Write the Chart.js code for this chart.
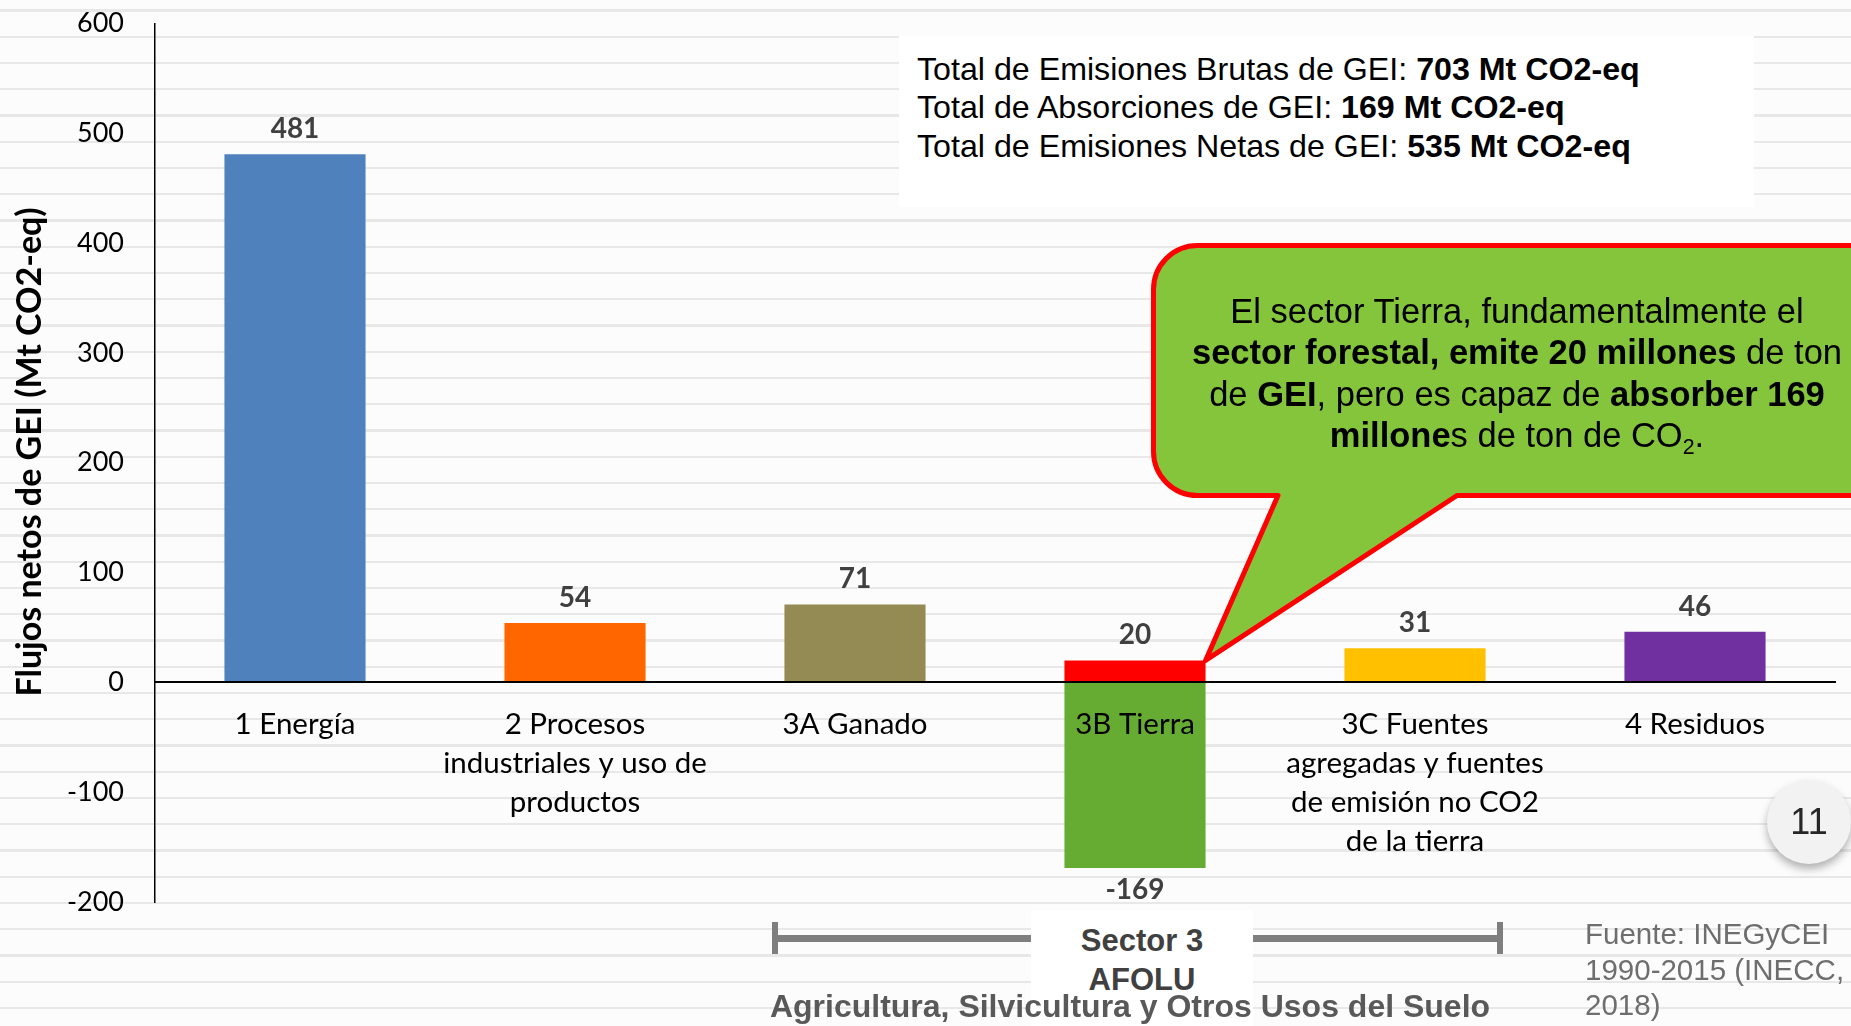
<!DOCTYPE html>
<html><head><meta charset="utf-8">
<script src="https://cdn.jsdelivr.net/npm/chart.js@4.4.1/dist/chart.umd.min.js"></script>
<style>
html,body{margin:0;padding:0;width:1851px;height:1026px;overflow:hidden;}
body{position:relative;background-color:#fcfcfc;
 background-image:repeating-linear-gradient(to bottom, rgba(0,0,0,0) 0px, rgba(0,0,0,0) 9.3px, #e8e8e8 9.3px, #e8e8e8 11.7px, rgba(0,0,0,0) 11.7px, rgba(0,0,0,0) 26.25px);
 font-family:"Liberation Sans",Arial,sans-serif;}
#c{position:absolute;left:0;top:0;}
.abs{position:absolute;white-space:nowrap;}
#ytitle{left:-272px;top:432px;width:600px;height:40px;line-height:40px;text-align:center;transform:rotate(-90deg);
 font-family:Lato,"Noto Sans",sans-serif;font-weight:bold;font-size:34px;color:#000;}
#totals{left:899px;top:36px;width:855px;height:171px;background:#fff;box-sizing:border-box;padding:13.75px 0 0 18px;
 font-size:32.2px;line-height:38.5px;color:#000;}
#callout{left:1157px;top:291px;width:720px;text-align:center;font-size:34.5px;line-height:41.4px;color:#000;}
.sub{font-size:0.62em;position:relative;top:0.32em;}
.brk{background:#7f7f7f;}
#sbox{left:1031px;top:910px;width:222px;height:120px;background:#fff;}
#sector{left:1031px;top:920.5px;width:222px;text-align:center;font-weight:bold;font-size:31px;line-height:39px;color:#404040;}
#afolu{left:630px;top:986.8px;width:1000px;text-align:center;font-weight:bold;font-size:32px;line-height:38.4px;color:#595959;}
#fuente{left:1585px;top:916.3px;font-size:29.5px;line-height:35.4px;color:#6e6e6e;}
#page{left:1767px;top:780px;width:84px;height:84px;border-radius:50%;background:#f2f2f2;box-shadow:0 5px 9px rgba(0,0,0,0.3);
 text-align:center;line-height:84px;font-size:36px;color:#262626;}
</style>
</head><body>
<canvas id="c" width="1851" height="1026"></canvas>
<div class="abs" id="ytitle">Flujos netos de GEI (Mt CO2-eq)</div>
<div class="abs" id="totals">Total de Emisiones Brutas de GEI: <b>703 Mt CO2-eq</b><br>Total de Absorciones de GEI: <b>169 Mt CO2-eq</b><br>Total de Emisiones Netas de GEI: <b>535 Mt CO2-eq</b></div>
<div class="abs" id="callout">El sector Tierra, fundamentalmente el<br><b>sector forestal, emite 20 millones</b> de ton<br>de <b>GEI</b>, pero es capaz de <b>absorber 169</b><br><b>millone</b>s de ton de CO<span class="sub">2</span>.</div>
<div class="abs brk" style="left:772px;top:922px;width:6px;height:32px;"></div>
<div class="abs brk" style="left:1497px;top:922px;width:6px;height:32px;"></div>
<div class="abs brk" style="left:775px;top:934.5px;width:725px;height:7px;"></div>
<div class="abs" id="sbox"></div>
<div class="abs" id="sector">Sector 3<br>AFOLU</div>
<div class="abs" id="afolu">Agricultura, Silvicultura y Otros Usos del Suelo</div>
<div class="abs" id="fuente">Fuente: INEGyCEI<br>1990-2015 (INECC,<br>2018)</div>
<div class="abs" id="page">11</div>
<script>
// ---- data ----
const categories = [
  '1 Energía',
  ['2 Procesos', 'industriales y uso de', 'productos'],
  '3A Ganado',
  '3B Tierra',
  ['3C Fuentes', 'agregadas y fuentes', 'de emisión no CO2', 'de la tierra'],
  '4 Residuos'
];
const emissions   = [481, 54, 71, 20, 31, 46];
const absorptions = [null, null, null, -169, null, null];
const emissionColors = ['#4F81BD', '#FF6600', '#948A54', '#FF0000', '#FFC000', '#7030A0'];
const absorptionColor = '#66AC33';
const yMin = -200, yMax = 600, yStep = 100;
const calloutCategory = '3B Tierra';

const labelFont = 'Lato, "Noto Sans", sans-serif';

const valueLabels = {
  id: 'valueLabels',
  afterDatasetsDraw(chart) {
    const ctx = chart.ctx;
    ctx.save();
    ctx.font = 'bold 28px ' + labelFont;
    ctx.fillStyle = '#404040';
    ctx.textAlign = 'center';
    ctx.textBaseline = 'middle';
    chart.data.datasets.forEach((ds, di) => {
      const meta = chart.getDatasetMeta(di);
      meta.data.forEach((el, i) => {
        const v = ds.data[i];
        if (v === null || v === undefined) return;
        const y = v >= 0 ? el.y - 25 : el.y + 22;
        ctx.fillText(String(v), el.x, y);
      });
    });
    ctx.restore();
  }
};

const callout = {
  id: 'callout',
  afterDraw(chart) {
    const idx = categories.indexOf(calloutCategory);
    const el = chart.getDatasetMeta(0).data[idx];
    const tipX = el.x + el.width / 2, tipY = el.y;
    const ctx = chart.ctx;
    const L = 1153.5, T = 245.5, B = 495.5, R = 1910, r = 44;
    ctx.save();
    ctx.beginPath();
    ctx.moveTo(1457, B);
    ctx.lineTo(tipX, tipY);
    ctx.lineTo(1278, B);
    ctx.lineTo(L + r, B);
    ctx.arcTo(L, B, L, B - r, r);
    ctx.lineTo(L, T + r);
    ctx.arcTo(L, T, L + r, T, r);
    ctx.lineTo(R, T);
    ctx.lineTo(R, B);
    ctx.closePath();
    ctx.fillStyle = '#84C53C';
    ctx.fill();
    ctx.lineWidth = 5;
    ctx.strokeStyle = '#FF0000';
    ctx.lineJoin = 'round';
    ctx.stroke();
    ctx.restore();
  }
};

new Chart(document.getElementById('c'), {
  type: 'bar',
  data: {
    labels: categories,
    datasets: [
      { label: 'Emisiones', data: emissions, backgroundColor: emissionColors },
      { label: 'Absorciones', data: absorptions, backgroundColor: absorptionColor }
    ]
  },
  options: {
    responsive: false,
    animation: false,
    devicePixelRatio: 1,
    layout: { padding: { left: 0, top: 23.5, right: 16, bottom: 124 } },
    datasets: { bar: { categoryPercentage: 1, barPercentage: 0.504 } },
    plugins: { legend: { display: false }, tooltip: { enabled: false } },
    scales: {
      x: {
        stacked: true,
        position: { y: 0 },
        offset: true,
        grid: { display: false, drawTicks: false },
        border: { display: true, color: '#000', width: 2, z: 1 },
        ticks: {
          z: 1, autoSkip: false, maxRotation: 0, minRotation: 0, padding: 22.5,
          color: '#000', font: { family: labelFont, size: 29.5, lineHeight: '39px' }
        }
      },
      y: {
        stacked: true,
        min: yMin, max: yMax,
        grid: { display: false, drawTicks: false },
        border: { display: true, color: '#000', width: 1.5 },
        ticks: {
          stepSize: yStep, padding: 31, color: '#000',
          font: { family: labelFont, size: 27 },
          callback: (v) => String(v)
        },
        afterFit: (s) => { s.width = 155; s.paddingTop = 0; s.paddingBottom = 0; }
      }
    }
  },
  plugins: [valueLabels, callout]
});
</script>
</body></html>
